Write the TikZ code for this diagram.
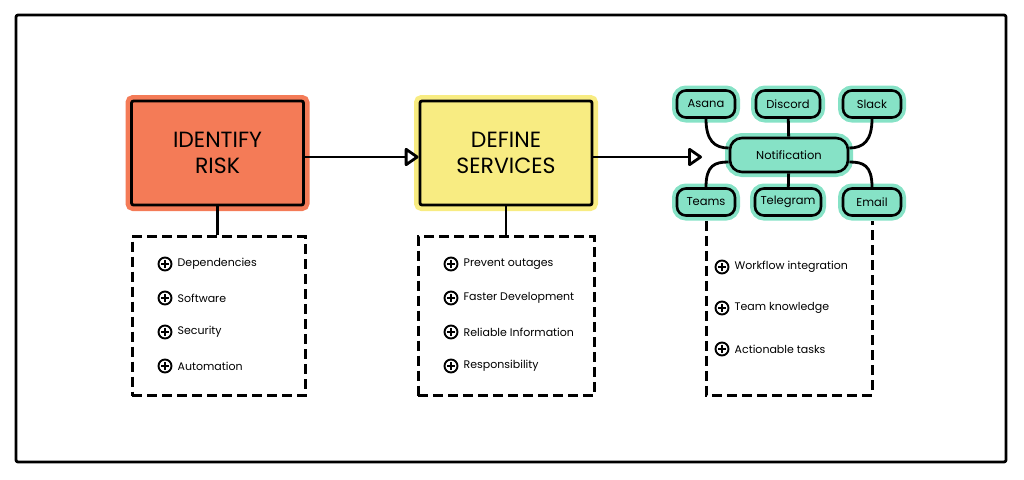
\documentclass[tikz,border=0pt]{standalone}
\usepackage{fontspec}
\setmainfont{Poppins}
\usepackage{tikz}
\usetikzlibrary{arrows.meta,positioning}
\definecolor{riskfill}{HTML}{F47B57}
\definecolor{svcfill}{HTML}{F8EC82}
\definecolor{notiffill}{HTML}{86E2C6}

\begin{document}
\begin{tikzpicture}[x=1pt, y=-1pt,
  frame/.style={line width=2.8pt, line join=round, rounded corners=2pt},
  title/.style={draw, line width=2.8pt, rounded corners=2pt, minimum width=172pt, minimum height=104pt, align=center, font=\fontsize{22}{26}\selectfont},
  pill/.style={draw, line width=2.6pt, rounded corners=9pt, fill=notiffill, preaction={draw=notiffill, line width=10pt}, minimum height=27pt, inner sep=0pt, font=\fontsize{11.5}{13}\selectfont},
  listbox/.style={draw, line width=3pt, dash pattern=on 10pt off 5pt, minimum width=173pt, minimum height=159pt},
  plus/.style={circle, draw, line width=1.9pt, minimum size=13pt, inner sep=0pt,
    path picture={\draw[line width=1.8pt] (path picture bounding box.center) ++(-3.8pt,0) -- ++(7.6pt,0);
                  \draw[line width=1.8pt] (path picture bounding box.center) ++(0,-3.8pt) -- ++(0,7.6pt);}},
  item/.style={inner sep=0pt, anchor=west, font=\fontsize{11}{13}\selectfont},
  conn/.style={line width=2.8pt},
  flow/.style={line width=2.8pt, -{Triangle[open, length=15pt, width=20pt, line join=round]}}
]
\useasboundingbox (0,0) rectangle (1024,479);

% ---- Frame ----
\draw[frame] (16,15) rectangle (1006,462);

% ---- Identify risk ----
\node[title, fill=riskfill, preaction={draw=riskfill, line width=12pt}] (risk) at (217.5,153) {IDENTIFY\\RISK};
\node[listbox] (riskbox) at (218.5,316) {};
\draw[conn] (risk.south) -- (risk.south |- riskbox.north);

\node[plus] (r1) at (165,264) {};
\node[item, right=5pt of r1] (r1t) {Dependencies};
\node[plus] (r2) at (165,298) {};
\node[item, right=5pt of r2] (r2t) {Software};
\node[plus] (r3) at (165,332) {};
\node[item, right=5pt of r3] (r3t) {Security};
\node[plus] (r4) at (165,366) {};
\node[item, right=5pt of r4] (r4t) {Automation};

% ---- Define services ----
\node[title, fill=svcfill, preaction={draw=svcfill, line width=12pt}] (svc) at (506,153) {DEFINE\\SERVICES};
\node[listbox, minimum width=176pt] (svcbox) at (506,316) {};
\draw[conn] (svc.south) -- (svc.south |- svcbox.north);

\node[plus] (s1) at (451,264) {};
\node[item, right=5pt of s1] (s1t) {Prevent outages};
\node[plus] (s2) at (451,298) {};
\node[item, right=5pt of s2] (s2t) {Faster Development};
\node[plus] (s3) at (451,332) {};
\node[item, right=5pt of s3] (s3t) {Reliable Information};
\node[plus] (s4) at (451,366) {};
\node[item, right=5pt of s4] (s4t) {Responsibility};

\draw[flow] ([yshift=-4pt]risk.east) -- ([yshift=-4pt]svc.west);

% ---- Notification ----
\node[pill, minimum width=118pt, minimum height=34pt, rounded corners=12pt] (notif) at (789,155) {Notification};
\node[pill, minimum width=58pt] (asana) at (706,104) {Asana};
\node[pill, minimum width=64pt] (discord) at (788,104) {Discord};
\node[pill, minimum width=58pt] (slack) at (872,104) {Slack};
\node[pill, minimum width=58pt] (teams) at (706,202) {Teams};
\node[pill, minimum width=66pt] (telegram) at (788,202) {Telegram};
\node[pill, minimum width=58pt] (email) at (872,202) {Email};

\draw[conn] (asana.south) .. controls +(0,22) and +(-14,0) .. ([yshift=7pt]notif.west);
\draw[conn] (discord) -- (notif);
\draw[conn] (slack.south) .. controls +(0,22) and +(14,0) .. ([yshift=7pt]notif.east);
\draw[conn] ([yshift=-7pt]notif.west) .. controls +(-14,0) and +(0,-22) .. (teams.north);
\draw[conn] (telegram) -- (notif);
\draw[conn] ([yshift=-7pt]notif.east) .. controls +(14,0) and +(0,-22) .. (email.north);

\coordinate (notifin) at (702,157);
\draw[flow] ([yshift=-4pt]svc.east) -- (notifin);

\coordinate (notifbottom) at (789,395);
\draw[conn, dash pattern=on 10pt off 5pt, line width=3pt] ([yshift=-4pt]teams.south) |- (notifbottom) -| ([yshift=-4pt]email.south);

\node[plus] (n1) at (722,267) {};
\node[item, right=5pt of n1] (n1t) {Workflow integration};
\node[plus] (n2) at (722,308) {};
\node[item, right=5pt of n2] (n2t) {Team knowledge};
\node[plus] (n3) at (722,349) {};
\node[item, right=5pt of n3] (n3t) {Actionable tasks};

\end{tikzpicture}
\end{document}
